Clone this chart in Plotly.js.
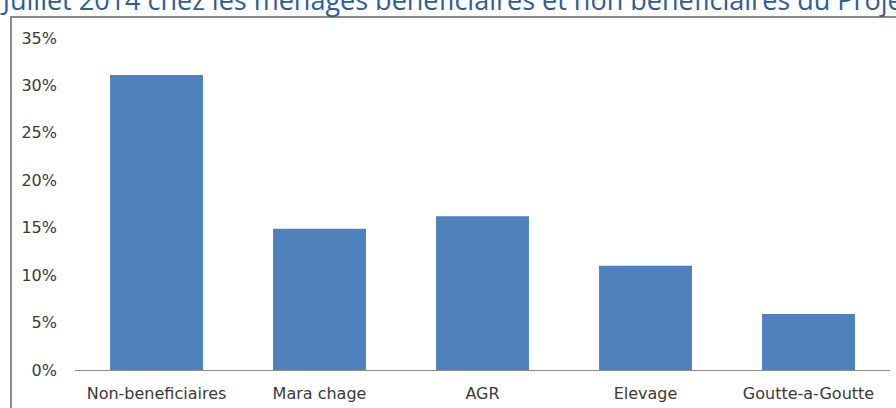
<!DOCTYPE html>
<html>
<head>
<meta charset="utf-8">
<script src="https://cdn.plot.ly/plotly-3.0.1.min.js"></script>
<style>html,body{margin:0;padding:0;background:#fff;}#chart{width:896px;height:408px;}</style>
</head>
<body>
<div id="chart"></div>
<script>
const categories = ["Non-beneficiaires", "Mara chage", "AGR", "Elevage", "Goutte-a-Goutte"];
const values = [0.311, 0.149, 0.162, 0.110, 0.059];
const yTickVals = [0, 0.05, 0.10, 0.15, 0.20, 0.25, 0.30, 0.35];
const yTickText = ["0%", "5%", "10%", "15%", "20%", "25%", "30%", "35%"];
const titleText = "Juillet 2014 chez les ménages beneficiaires et non beneficiaires du Projet";

const trace = {
  type: "bar",
  x: categories,
  y: values,
  marker: {color: "#4F81BD"},
  hoverinfo: "none"
};

const layout = {
  width: 896,
  height: 408,
  margin: {l: 75, r: 6, t: 38, b: 38},
  paper_bgcolor: "#ffffff",
  plot_bgcolor: "#ffffff",
  showlegend: false,
  bargap: 0.43,
  font: {family: "DejaVu Sans, sans-serif", size: 16, color: "#3a3a3a"},
  title: {
    text: titleText,
    x: 0.003, xanchor: "left", xref: "container",
    y: 0.998, yanchor: "middle", yref: "container",
    font: {family: "Open Sans, sans-serif", size: 27, color: "#2E5D9B"}
  },
  xaxis: {
    showline: true, linecolor: "#8c8c8c", linewidth: 1,
    ticks: "", showgrid: false, zeroline: false,
    ticklabelstandoff: 9,
    tickfont: {family: "DejaVu Sans, sans-serif", size: 16, color: "#3a3a3a"}
  },
  yaxis: {
    range: [0, 0.35],
    tickvals: yTickVals, ticktext: yTickText,
    showline: false, showgrid: false, zeroline: false, ticks: "",
    ticklabelstandoff: 17,
    tickfont: {family: "DejaVu Sans, sans-serif", size: 16, color: "#3a3a3a"}
  },
  shapes: [{
    type: "rect", xref: "paper", yref: "paper",
    x0: -0.0785, x1: 1.2, y0: -0.3, y1: 1.0633,
    line: {color: "#8a8a8a", width: 2}, layer: "below"
  }]
};

Plotly.newPlot("chart", [trace], layout, {displayModeBar: false, staticPlot: true});
</script>
</body>
</html>
